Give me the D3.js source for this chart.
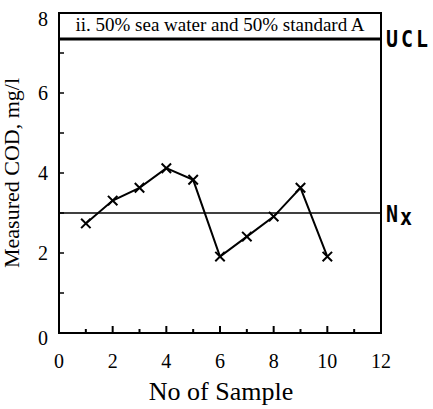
<!DOCTYPE html>
<html><head><meta charset="utf-8">
<script src="https://cdn.jsdelivr.net/npm/d3@7"></script>
<style>body{margin:0;background:#fff}svg{display:block}</style>
</head><body>
<script>
const samples = [1,2,3,4,5,6,7,8,9,10];
const cod = [2.74,3.31,3.63,4.12,3.83,1.91,2.41,2.91,3.63,1.91];
const ucl = 7.35;
const mean = 3.0;
const xTicks = [0,2,4,6,8,10,12];
const yTicks = [0,2,4,6,8];
const title = "ii. 50% sea water and 50% standard A";

const W=433,H=409;
const m={l:59,r:381,t:13,b:333};
const svg=d3.select("body").append("svg").attr("width",W).attr("height",H);
const x=d3.scaleLinear().domain([0,12]).range([m.l,m.r]);
const y=d3.scaleLinear().domain([0,8]).range([m.b,m.t]);
const serif="'Liberation Serif','Times New Roman',serif";

const g=svg.append("g");
g.selectAll(".xt").data(d3.range(1,12)).join("line")
 .attr("x1",d=>x(d)).attr("x2",d=>x(d)).attr("y1",y(0)).attr("y2",d=>y(0)-(d%2===0?7:4))
 .attr("stroke","#000").attr("stroke-width",2);
g.selectAll(".yt").data(d3.range(1,8)).join("line")
 .attr("x1",x(0)).attr("x2",x(0)+5).attr("y1",d=>y(d)).attr("y2",d=>y(d))
 .attr("stroke","#000").attr("stroke-width",1.5);

svg.append("rect").attr("x",m.l).attr("y",m.t).attr("width",m.r-m.l).attr("height",m.b-m.t)
 .attr("fill","none").attr("stroke","#000").attr("stroke-width",2);

svg.append("line").attr("x1",x(0)).attr("x2",x(12)).attr("y1",y(ucl)).attr("y2",y(ucl))
 .attr("stroke","#000").attr("stroke-width",3);
svg.append("line").attr("x1",x(0)).attr("x2",x(12)).attr("y1",y(mean)).attr("y2",y(mean))
 .attr("stroke","#000").attr("stroke-width",1.5);

svg.append("text").attr("x",(m.l+m.r)/2).attr("y",31).attr("text-anchor","middle")
 .attr("font-family",serif).attr("font-size",19).text(title);

const mono="'DejaVu Sans Mono',monospace";
svg.append("text").attr("x",386).attr("y",y(ucl)+8).attr("font-family",mono).attr("font-weight","bold")
 .attr("font-size",20).attr("letter-spacing",3).attr("transform",`translate(0,${y(ucl)+8}) scale(1,1.15) translate(0,${-(y(ucl)+8)})`).text("UCL");
const nx=svg.append("text").attr("x",386).attr("y",y(mean)+9).attr("font-family",mono).attr("font-weight","bold")
 .attr("font-size",20).attr("letter-spacing",2).attr("transform",`translate(0,${y(mean)+9}) scale(1,1.15) translate(0,${-(y(mean)+9)})`);
nx.append("tspan").text("N");
nx.append("tspan").attr("dy",3).text("x");

const line=d3.line().x((d,i)=>x(samples[i])).y(d=>y(d));
svg.append("path").datum(cod).attr("d",line).attr("fill","none").attr("stroke","#000").attr("stroke-width",2);
svg.selectAll(".pt").data(cod).join("path")
 .attr("transform",(d,i)=>`translate(${x(samples[i])},${y(d)})`)
 .attr("d",d3.symbol(d3.symbolX,60)).attr("fill","none").attr("stroke","#000").attr("stroke-width",2);

svg.selectAll(".xl").data(xTicks).join("text").attr("x",d=>x(d)).attr("y",368)
 .attr("text-anchor","middle").attr("font-family",serif).attr("font-size",20).text(d=>d);
svg.selectAll(".yl").data(yTicks).join("text").attr("x",48).attr("y",d=>y(d)+7+(d===0?5:d===8?6:0))
 .attr("text-anchor","end").attr("font-family",serif).attr("font-size",20).text(d=>d);

svg.append("text").attr("x",(m.l+m.r)/2+1).attr("y",400).attr("text-anchor","middle")
 .attr("font-family",serif).attr("font-size",26).text("No of Sample");
svg.append("text").attr("transform",`translate(19,173) rotate(-90)`).attr("text-anchor","middle")
 .attr("font-family",serif).attr("font-size",22).text("Measured COD, mg/l");
</script>
</body></html>
